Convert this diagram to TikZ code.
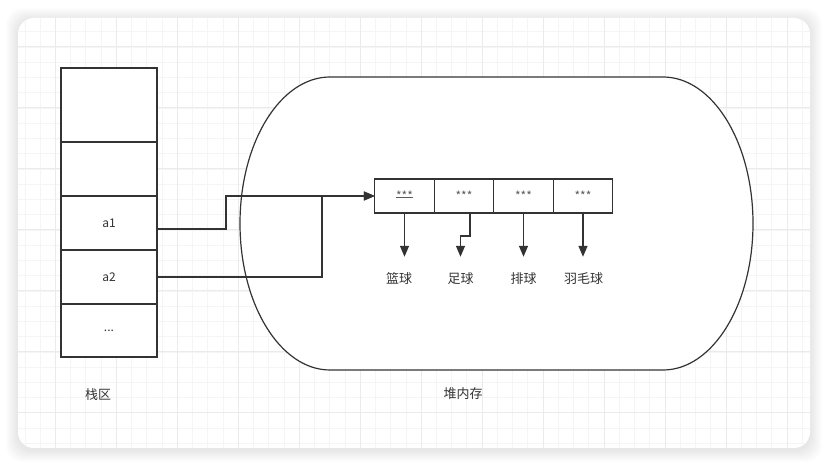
\documentclass[tikz,border=0pt]{standalone}
\usepackage{fontspec}
\setmainfont{Noto Sans CJK SC}
\usepackage{tikz}
\usetikzlibrary{arrows.meta, positioning}
\definecolor{ink}{RGB}{51,51,51}
\definecolor{gridmin}{RGB}{245,245,245}
\definecolor{gridmaj}{RGB}{235,235,235}
\tikzset{
  cell/.style ={rectangle, draw=ink, fill=white, line width=1.2pt, minimum width=96pt,
                inner sep=0pt, outer sep=0pt, text=ink, font=\fontsize{12}{14}\selectfont},
  slot/.style ={cell, minimum width=59.5pt, minimum height=34pt, text=ink!80,
                font=\fontsize{12}{14}\selectfont},
  lbl/.style  ={text=ink, font=\fontsize{13}{15}\selectfont, inner sep=0pt, minimum height=44pt},
  ln/.style   ={draw=ink, line width=1.2pt},
  ar/.style   ={-{Triangle[length=11pt,width=9pt]}, ln},
}
\newcommand{\ulstars}{\sbox0{***}\rlap{\rule[3pt]{\wd0}{0.6pt}}\usebox0}
\begin{document}
\begin{tikzpicture}[x=1pt,y=1pt]
\useasboundingbox (0,0) rectangle (828,466);
% card with soft shadow and grid
\foreach \i in {1,...,12}
  \fill[black, opacity=0.009, rounded corners=16pt] ({18-\i},{16-\i}) rectangle ({810+\i},{446+\i});
\fill[white, rounded corners=16pt] (18,18) rectangle (810,448);
\begin{scope}
\clip[rounded corners=16pt] (18,18) rectangle (810,448);
\foreach \k in {0,...,51} \draw[gridmin, line width=1pt] ({25+15.24*\k},18) -- ++(0,430);
\foreach \k in {0,...,27} \draw[gridmin, line width=1pt] (18,{434-15.24*\k}) -- ++(792,0);
\foreach \k in {0,...,12} \draw[gridmaj, line width=1pt] ({55.5+60.96*\k},18) -- ++(0,430);
\foreach \k in {0,...,6} \draw[gridmaj, line width=1pt] (18,{419-60.96*\k}) -- ++(792,0);
\end{scope}
% stack
\node[cell, minimum height=74pt] (s1) at (109,361) {};
\node[cell, minimum height=54pt, below=0pt of s1] (s2) {};
\node[cell, minimum height=54pt, below=0pt of s2] (s3) {a1};
\node[cell, minimum height=54pt, below=0pt of s3] (s4) {a2};
\node[cell, minimum height=53pt, below=0pt of s4] (s5) {...};
\node[lbl] (stk) at (98,71) {栈区};
% heap
\draw[ln, fill=white] (330,389) -- (663,389)
  arc[start angle=90, end angle=-90, x radius=90, y radius=146.5] -- (330,96)
  arc[start angle=270, end angle=90, x radius=90, y radius=146.5] -- cycle;
\node[lbl] (hp) at (463,72) {堆内存};
\node[slot] (c1) at (404.5,270) {\ulstars};
\node[slot, right=0pt of c1] (c2) {***};
\node[slot, right=0pt of c2] (c3) {***};
\node[slot, right=0pt of c3] (c4) {***};
\node[lbl] (l1) at (399,187) {篮球};
\node[lbl] (l2) at (460.5,187) {足球};
\node[lbl] (l3) at (523.5,187) {排球};
\node[lbl] (l4) at (583.5,187) {羽毛球};
\draw[ar] (c1.south) -- (c1.south |- l1.north);
\draw[ar] ([xshift=6pt]c2.south) -- ++(0,-23) -| (l2.north);
\draw[ar] (c3.south) -- (c3.south |- l3.north);
\draw[ar] (c4.south) -- (c4.south |- l4.north);
% references
\draw[ar] ([yshift=-6pt]s3.east) -- ++(69,0) |- (c1.west);
\draw[ar] (s4.east) -- ++(165,0) |- (c1.west);
\end{tikzpicture}
\end{document}
